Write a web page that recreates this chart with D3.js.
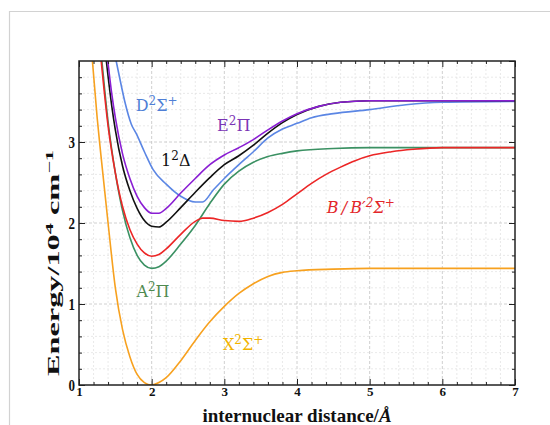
<!DOCTYPE html>
<html>
<head>
<meta charset="utf-8">
<script src="https://cdn.jsdelivr.net/npm/d3@7"></script>
<style>
  body { margin: 0; background: #fff; }
  svg { display: block; }
</style>
</head>
<body>
<svg id="chart"></svg>
<script>
// Set data (r in angstrom, energy in 10^4 cm^-1)
const xSigmaR = [1.18, 1.25, 1.3, 1.4, 1.5, 1.6, 1.7, 1.8, 1.9, 2.0, 2.1, 2.2, 2.4, 2.6, 2.8, 3.0, 3.2, 3.4, 3.6, 3.8, 4.0, 4.5, 5, 6, 7];
const xSigmaE = [4.05, 3.3, 2.85, 2.0, 1.2, 0.68, 0.35, 0.13, 0.03, 0, 0.03, 0.09, 0.3, 0.55, 0.78, 0.97, 1.13, 1.25, 1.34, 1.39, 1.41, 1.43, 1.44, 1.44, 1.44];

const aPiR = [1.31, 1.4, 1.5, 1.6, 1.7, 1.8, 1.9, 2.0, 2.1, 2.2, 2.4, 2.6, 2.8, 3.0, 3.2, 3.4, 3.6, 3.8, 4.0, 4.5, 5, 6, 7];
const aPiE = [4.05, 3.25, 2.62, 2.15, 1.82, 1.6, 1.48, 1.44, 1.46, 1.53, 1.74, 1.97, 2.24, 2.48, 2.64, 2.75, 2.82, 2.86, 2.89, 2.92, 2.93, 2.93, 2.93];

const bSigmaR = [1.3, 1.4, 1.5, 1.6, 1.7, 1.8, 1.9, 2.0, 2.1, 2.2, 2.4, 2.6, 2.7, 2.8, 3.0, 3.2, 3.4, 3.6, 3.8, 4.0, 4.2, 4.4, 4.6, 4.8, 5.0, 5.3, 5.6, 6, 7];
const bSigmaE = [4.05, 3.2, 2.62, 2.2, 1.92, 1.74, 1.63, 1.59, 1.61, 1.68, 1.86, 2.02, 2.06, 2.06, 2.03, 2.02, 2.06, 2.13, 2.23, 2.36, 2.49, 2.6, 2.69, 2.77, 2.83, 2.88, 2.91, 2.93, 2.93];

const dSigmaR = [1.5, 1.56, 1.63, 1.72, 1.79, 1.9, 2.02, 2.2, 2.4, 2.6, 2.7, 2.85, 3.0, 3.2, 3.4, 3.6, 3.8, 4.0, 4.2, 4.5, 5, 5.5, 6, 7];
const dSigmaE = [4.05, 3.79, 3.5, 3.22, 3.1, 2.88, 2.66, 2.48, 2.33, 2.26, 2.26, 2.41, 2.55, 2.72, 2.88, 3.05, 3.16, 3.23, 3.3, 3.35, 3.4, 3.46, 3.49, 3.5];

const deltaR = [1.37, 1.45, 1.5, 1.6, 1.7, 1.8, 1.9, 2.0, 2.1, 2.2, 2.4, 2.6, 2.8, 3.0, 3.2, 3.4, 3.6, 3.8, 4.0, 4.3, 4.6, 5, 6, 7];
const deltaE = [4.05, 3.45, 3.15, 2.7, 2.4, 2.18, 2.03, 1.96, 1.95, 2.01, 2.19, 2.38, 2.56, 2.72, 2.83, 2.96, 3.11, 3.24, 3.34, 3.44, 3.49, 3.51, 3.51, 3.51];

const ePiR = [1.39, 1.45, 1.5, 1.6, 1.7, 1.8, 1.9, 2.0, 2.1, 2.2, 2.4, 2.6, 2.8, 3.0, 3.2, 3.4, 3.6, 3.8, 4.0, 4.3, 4.6, 5, 6, 7];
const ePiE = [4.05, 3.6, 3.3, 2.85, 2.55, 2.33, 2.19, 2.12, 2.12, 2.18, 2.37, 2.55, 2.72, 2.84, 2.93, 3.03, 3.15, 3.26, 3.35, 3.44, 3.49, 3.51, 3.51, 3.51];

const xTicks = [1, 2, 3, 4, 5, 6, 7];
const yTicks = [0, 1, 2, 3];

// series, drawn in this order
const series = [
    {name: "X", r: xSigmaR, e: xSigmaE, color: "#f7a11f"},
    {name: "A", r: aPiR, e: aPiE, color: "#3b9163"},
    {name: "B", r: bSigmaR, e: bSigmaE, color: "#ec2626"},
    {name: "D", r: dSigmaR, e: dSigmaE, color: "#5b86e4"},
    {name: "Delta", r: deltaR, e: deltaE, color: "#111111"},
    {name: "E", r: ePiR, e: ePiE, color: "#8a1ed3"}
];

// state labels, anchored at their left baseline
const labels = [
    {parts: [["D"], ["2", "sup"], ["\u03A3"], ["+", "sup"]], r: 1.78, e: 3.38, color: "#4f7fd6"},
    {parts: [["E"], ["2", "sup"], ["\u03A0"]], r: 2.9, e: 3.14, color: "#7b34b5"},
    {parts: [["1"], ["2", "sup"], ["\u0394"]], r: 2.13, e: 2.7, color: "#111111"},
    {parts: [["B\u2009/\u2009B\u2032"], ["2", "sup"], ["\u03A3"], ["+", "sup"]], r: 4.41, e: 2.12, color: "#e3262a", italic: true},
    {parts: [["A"], ["2", "sup"], ["\u03A0"]], r: 1.79, e: 1.09, color: "#4f8a4f"},
    {parts: [["X"], ["2", "sup"], ["\u03A3"], ["+", "sup"]], r: 2.98, e: 0.43, color: "#f2b300"}
];

// Set width and height
const width = 550;
const height = 425;
const plot = {left: 79, right: 515, top: 61, bottom: 385};

const svg = d3.select("#chart")
    .attr("width", width)
    .attr("height", height);

const xScale = d3.scaleLinear().domain([1, 7]).range([plot.left, plot.right]);
const yScale = d3.scaleLinear().domain([0, 4]).range([plot.bottom, plot.top]);

// outer light frame
svg.append("line").attr("x1", 9.5).attr("x2", 9.5).attr("y1", 11).attr("y2", height)
    .attr("stroke", "#d2d2d2").attr("stroke-width", 1.2);
svg.append("line").attr("x1", 9).attr("x2", width).attr("y1", 11.5).attr("y2", 11.5)
    .attr("stroke", "#d2d2d2").attr("stroke-width", 1.2);

// grid
const minorX = d3.range(1, 7.001, 0.2).map(v => +v.toFixed(1));
const minorY = d3.range(0, 4.001, 0.2).map(v => +v.toFixed(1));
const isMajor = v => Math.abs(v - Math.round(v)) < 1e-6;

const grid = svg.append("g");
grid.selectAll(".gx").data(minorX.filter(v => v > 1 && v < 7)).join("line")
    .attr("x1", d => xScale(d)).attr("x2", d => xScale(d))
    .attr("y1", plot.top).attr("y2", plot.bottom)
    .attr("stroke", d => isMajor(d) ? "#c4c4c4" : "#e3e3e3")
    .attr("stroke-dasharray", d => isMajor(d) ? "3,2" : "2,2")
    .attr("stroke-width", 0.8);
grid.selectAll(".gy").data(minorY.filter(v => v > 0 && v < 4)).join("line")
    .attr("y1", d => yScale(d)).attr("y2", d => yScale(d))
    .attr("x1", plot.left).attr("x2", plot.right)
    .attr("stroke", d => isMajor(d) ? "#c4c4c4" : "#e3e3e3")
    .attr("stroke-dasharray", d => isMajor(d) ? "3,2" : "2,2")
    .attr("stroke-width", 0.8);

// curves
svg.append("clipPath").attr("id", "plot-clip")
    .append("rect")
    .attr("x", plot.left).attr("y", plot.top)
    .attr("width", plot.right - plot.left).attr("height", plot.bottom - plot.top);

const line = d3.line()
    .x(d => xScale(d[0]))
    .y(d => yScale(d[1]))
    .curve(d3.curveMonotoneX);

const curves = svg.append("g").attr("clip-path", "url(#plot-clip)");
for (const s of series) {
    curves.append("path")
        .datum(d3.zip(s.r, s.e))
        .attr("d", line)
        .attr("fill", "none")
        .attr("stroke", s.color)
        .attr("stroke-width", 1.6);
}

// axes (ticks point inward on all four sides)
const tickFont = "'Liberation Serif', 'Times New Roman', serif";
const drawAxis = function(axisFn, scale, transform, values, size, labelled){
    const g = svg.append("g")
        .attr("transform", transform)
        .call(axisFn(scale).tickValues(values).tickSizeInner(size).tickSizeOuter(0)
            .tickPadding(labelled ? 3 : 0)
            .tickFormat(labelled ? d3.format("d") : ""));
    g.select(".domain").remove();
    g.selectAll(".tick line").attr("stroke", "#222").attr("stroke-width", 1);
    return g;
}

const minorXOnly = minorX.filter(v => !isMajor(v));
const minorYOnly = minorY.filter(v => !isMajor(v));

const bottomAxis = drawAxis(d3.axisBottom, xScale, `translate(0,${plot.bottom})`, xTicks, -6, true);
drawAxis(d3.axisBottom, xScale, `translate(0,${plot.bottom})`, minorXOnly, -3, false);
drawAxis(d3.axisTop, xScale, `translate(0,${plot.top})`, xTicks, -6, false);
drawAxis(d3.axisTop, xScale, `translate(0,${plot.top})`, minorXOnly, -3, false);
const leftAxis = drawAxis(d3.axisLeft, yScale, `translate(${plot.left},0)`, yTicks, -6, true);
drawAxis(d3.axisLeft, yScale, `translate(${plot.left},0)`, minorYOnly, -3, false);
drawAxis(d3.axisRight, yScale, `translate(${plot.right},0)`, yTicks.concat([4]), -6, false);
drawAxis(d3.axisRight, yScale, `translate(${plot.right},0)`, minorYOnly, -3, false);

bottomAxis.selectAll("text")
    .attr("font-family", tickFont).attr("font-weight", "bold")
    .attr("font-size", 13).attr("fill", "#111")
    .attr("y", 2);
leftAxis.selectAll("text")
    .attr("font-family", tickFont).attr("font-weight", "bold")
    .attr("font-size", 13).attr("fill", "#111")
    .attr("x", -4)
    .attr("transform", "scale(1,1.35)");

// plot frame
svg.append("rect")
    .attr("x", plot.left).attr("y", plot.top)
    .attr("width", plot.right - plot.left).attr("height", plot.bottom - plot.top)
    .attr("fill", "none").attr("stroke", "#222").attr("stroke-width", 1.5);

// axis titles
svg.append("text")
    .attr("x", 297).attr("y", 422)
    .attr("text-anchor", "middle")
    .attr("font-family", tickFont).attr("font-weight", "bold").attr("font-size", 19)
    .attr("fill", "#111")
    .call(t => {
        t.append("tspan").text("internuclear distance/");
        t.append("tspan").attr("font-style", "italic").text("\u00C5");
    });

const yTitle = svg.append("text")
    .attr("font-family", tickFont).attr("font-weight", "bold").attr("font-size", 16)
    .attr("fill", "#111")
    .attr("text-anchor", "middle");
yTitle.append("tspan").text("Energy/10");
yTitle.append("tspan").attr("font-size", 11).attr("dy", -6).text("4");
yTitle.append("tspan").attr("dy", 6).text(" cm");
yTitle.append("tspan").attr("font-size", 11).attr("dy", -6).text("\u22121");
const yTitleLen = yTitle.node().getComputedTextLength();
yTitle.attr("transform", `translate(59,263) rotate(-90) scale(${226 / yTitleLen},1)`);

// state labels
for (const lab of labels) {
    const t = svg.append("text")
        .attr("x", xScale(lab.r)).attr("y", yScale(lab.e))
        .attr("font-family", "'DejaVu Serif', serif")
        .attr("font-size", 16)
        .attr("font-style", lab.italic ? "italic" : "normal")
        .attr("fill", lab.color);
    let up = false;
    for (const part of lab.parts) {
        const sup = part[1] === "sup";
        const ts = t.append("tspan").text(part[0]);
        if (sup && !up) { ts.attr("font-size", 12).attr("dy", -6); up = true; }
        else if (!sup && up) { ts.attr("dy", 6); up = false; }
        else if (sup) { ts.attr("font-size", 12); }
    }
}
</script>
</body>
</html>
